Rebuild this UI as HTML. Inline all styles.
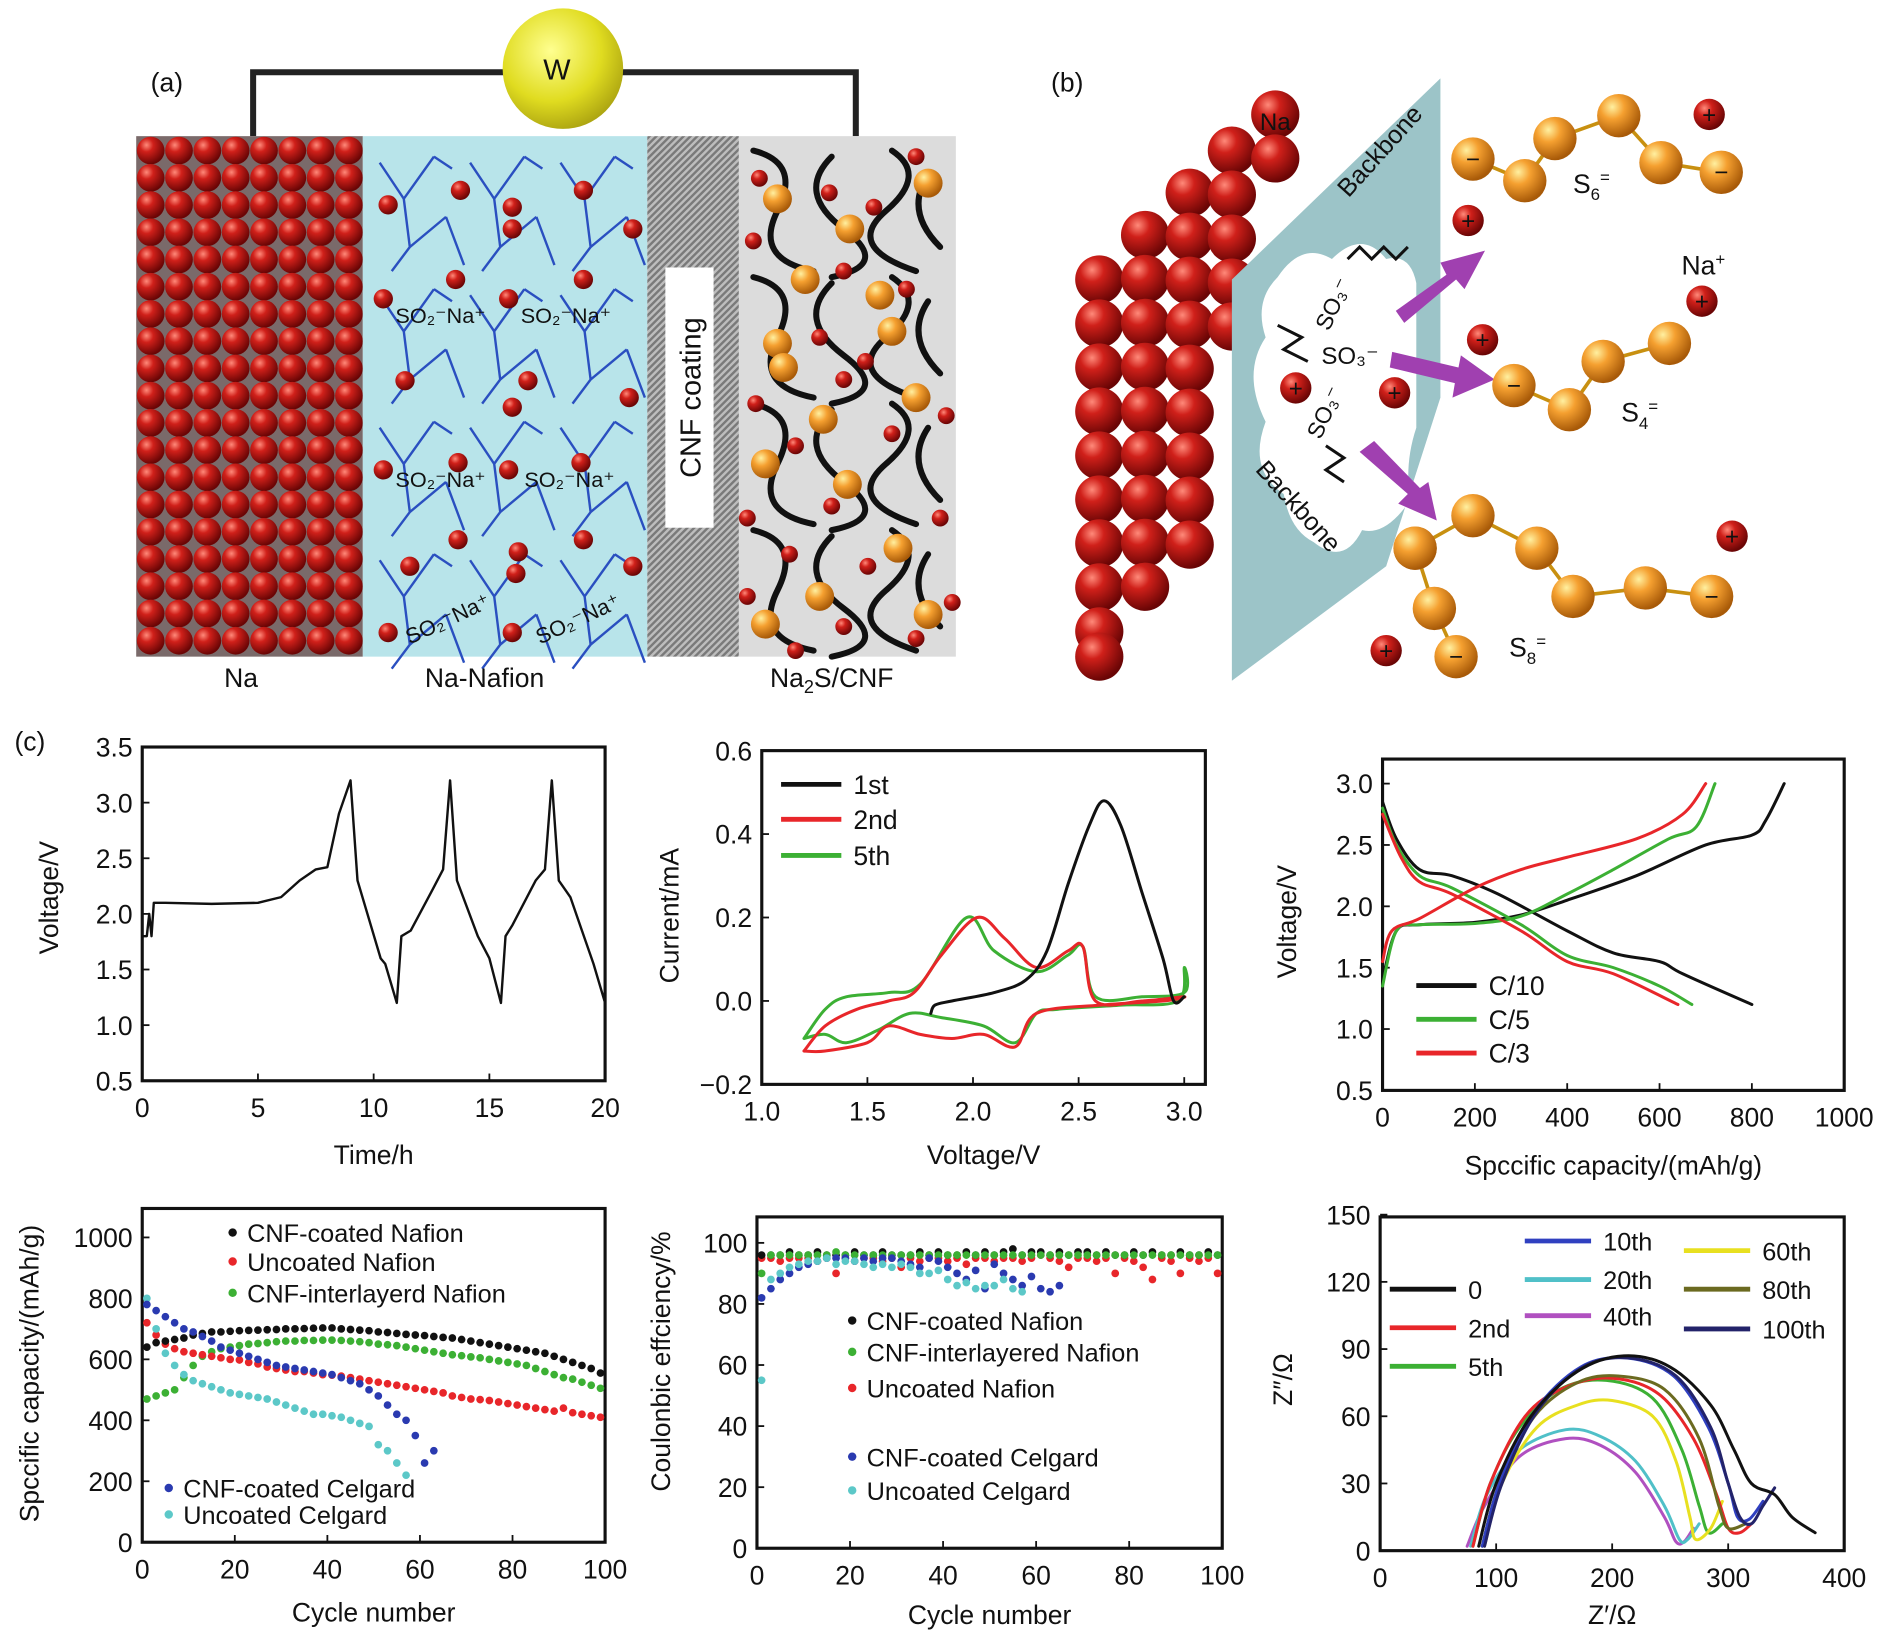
<!DOCTYPE html>
<html><head><meta charset="utf-8"><style>
html,body{margin:0;padding:0;background:#fff;}
svg{display:block;font-family:"Liberation Sans",Arial,sans-serif;}
</style></head><body>
<svg id="fig" width="1890" height="1635" viewBox="0 0 1568 1357" preserveAspectRatio="none" xmlns="http://www.w3.org/2000/svg">
<defs>
<radialGradient id="gRed" cx="0.35" cy="0.3" r="0.7"><stop offset="0" stop-color="#ff8a7a"/><stop offset="0.35" stop-color="#d0201a"/><stop offset="1" stop-color="#6a0505"/></radialGradient>
<radialGradient id="gOr" cx="0.35" cy="0.3" r="0.7"><stop offset="0" stop-color="#fff0a0"/><stop offset="0.4" stop-color="#f5a030"/><stop offset="1" stop-color="#a85a08"/></radialGradient>
<radialGradient id="gY" cx="0.4" cy="0.35" r="0.7"><stop offset="0" stop-color="#ffff90"/><stop offset="0.6" stop-color="#e0dc20"/><stop offset="1" stop-color="#a8a010"/></radialGradient>
<pattern id="hatch" width="4" height="4" patternUnits="userSpaceOnUse" patternTransform="rotate(45)"><rect width="4" height="4" fill="#bdbdbd"/><rect width="2" height="4" fill="#7a7a7a"/></pattern>
</defs>
<g id="panelA"></g>
<g id="panelB"></g>
<g id="charts"></g>
</svg>
<script>
// ---------- chart data ----------
const c1Time=[0,0.2,0.3,0.4,0.5,1,3,5,6,6.8,7.5,8,8.5,9,9.3,9.8,10.3,10.5,11,11.2,11.6,12.5,13,13.3,13.6,14.5,15,15.5,15.7,16,17,17.4,17.7,18,18.5,19,19.5,20];
const c1Volt=[1.8,1.8,2.0,1.8,2.1,2.1,2.09,2.1,2.15,2.3,2.4,2.42,2.9,3.2,2.3,1.95,1.6,1.55,1.2,1.8,1.85,2.2,2.4,3.2,2.3,1.8,1.6,1.2,1.8,1.9,2.3,2.4,3.2,2.3,2.15,1.85,1.55,1.2];
const c1XTicks=[0,5,10,15,20];
const c1YTicks=[0.5,1.0,1.5,2.0,2.5,3.0,3.5];

const cv1V=[1.8,1.82,1.9,2.1,2.25,2.35,2.45,2.55,2.62,2.7,2.8,2.9,2.95,3.0];
const cv1I=[-0.03,-0.01,0.0,0.02,0.05,0.12,0.28,0.42,0.48,0.42,0.26,0.1,0.0,0.01];
const cv2V=[1.2,1.3,1.45,1.6,1.72,1.85,2.02,2.15,2.3,2.45,2.52,2.58,2.8,3.0,2.9,2.6,2.3,2.2,2.05,1.9,1.75,1.6,1.5,1.3,1.2];
const cv2I=[-0.12,-0.06,-0.02,0.0,0.02,0.11,0.2,0.15,0.08,0.12,0.13,0.0,0.0,0.01,0.0,-0.01,-0.03,-0.11,-0.08,-0.09,-0.08,-0.06,-0.1,-0.12,-0.12];
const cv5V=[1.2,1.3,1.4,1.6,1.75,1.97,2.1,2.3,2.45,2.52,2.58,2.8,3.0,3.0,2.97,2.7,2.4,2.3,2.2,2.05,1.85,1.7,1.55,1.4,1.3,1.2];
const cv5I=[-0.09,-0.02,0.01,0.02,0.04,0.2,0.12,0.07,0.11,0.13,0.01,0.01,0.02,0.08,0.0,-0.01,-0.02,-0.03,-0.1,-0.06,-0.04,-0.03,-0.07,-0.1,-0.08,-0.09];
const c2XTicks=[1.0,1.5,2.0,2.5,3.0];
const c2YTicks=[-0.2,0.0,0.2,0.4,0.6];

const c10DisCap=[0,30,80,150,250,400,500,600,650,800];
const c10DisV=[2.85,2.55,2.3,2.25,2.1,1.8,1.62,1.55,1.45,1.2];
const c10ChCap=[0,30,80,200,300,400,550,700,800,830,870];
const c10ChV=[1.4,1.8,1.85,1.87,1.93,2.05,2.25,2.5,2.58,2.7,3.0];
const c5DisCap=[0,30,80,150,300,400,500,600,670];
const c5DisV=[2.8,2.5,2.25,2.15,1.85,1.6,1.5,1.35,1.2];
const c5ChCap=[0,30,80,200,300,400,500,620,680,720];
const c5ChV=[1.35,1.8,1.85,1.86,1.92,2.1,2.3,2.55,2.65,3.0];
const c3DisCap=[0,40,80,150,300,400,500,640];
const c3DisV=[2.75,2.4,2.2,2.1,1.8,1.55,1.45,1.2];
const c3ChCap=[0,20,80,200,300,400,550,650,700];
const c3ChV=[1.55,1.8,1.9,2.15,2.3,2.4,2.55,2.75,3.0];
const c3XTicks=[0,200,400,600,800,1000];
const c3YTicks=[0.5,1.0,1.5,2.0,2.5,3.0];

const capBlack=[640,655,660,665,670,680,685,690,690,692,694,695,696,697,698,700,700,701,702,703,703,700,698,696,694,690,688,685,682,680,678,675,672,670,665,660,655,650,645,640,635,630,625,620,610,600,590,580,570,555];
const capRed=[720,680,650,635,625,620,615,610,605,600,598,590,585,575,570,565,560,560,555,550,548,545,540,535,530,525,520,515,510,505,500,495,490,480,475,470,468,465,460,455,450,445,440,435,430,440,425,420,415,410];
const capGreen=[470,480,490,500,540,580,610,625,635,640,645,650,652,655,658,660,660,662,662,663,663,662,660,658,655,650,648,645,640,635,630,625,620,615,612,608,605,600,595,590,585,580,570,560,550,540,535,525,515,505];
const capBlue=[780,760,740,720,700,690,675,660,640,630,620,610,600,590,580,575,570,565,560,555,550,540,530,520,500,480,450,420,400,350,260,300];
const capCyan=[800,700,620,580,550,530,520,510,500,490,485,480,475,470,460,450,440,430,420,420,415,410,400,390,380,320,300,260,220];
const c4XTicks=[0,20,40,60,80,100];
const c4YTicks=[0,200,400,600,800,1000];

const ceBlack=[96,96,96,97,96,96,97,96,96,96,97,96,96,97,96,96,96,97,96,97,96,96,97,96,97,96,97,98,96,97,97,96,97,96,97,97,96,97,96,96,97,96,97,96,96,97,96,96,97,96];
const ceGreen=[90,96,96,96,96,96,96,96,97,96,96,96,96,96,96,96,96,96,96,96,96,96,96,96,96,96,96,96,96,96,96,96,96,96,96,96,96,96,96,96,96,96,96,96,96,96,96,96,96,96];
const ceRed=[95,95,94,95,95,95,94,95,90,95,94,95,95,94,95,92,95,94,95,95,94,95,93,95,95,94,95,95,94,95,96,95,94,92,95,95,94,95,90,95,94,92,88,95,94,90,95,94,95,90];
const ceBlue=[82,85,88,90,92,93,94,95,95,95,94,95,94,95,95,94,93,92,95,94,92,90,88,91,85,93,90,88,86,89,85,84,86];
const ceCyan=[55,88,90,92,93,94,94,95,93,94,94,93,92,93,92,93,92,90,90,91,88,86,87,85,86,86,88,85,84];
const c5XTicks=[0,20,40,60,80,100];
const c5YTicks=[0,20,40,60,80,100];

const eis0Re=[85,100,130,170,210,250,285,305,320,340,355,375];
const eis0Im=[2,30,60,80,87,82,65,45,30,25,15,8];
const eis2Re=[80,95,125,160,200,240,270,290,300,310,320];
const eis2Im=[2,30,60,73,77,70,50,25,10,8,12];
const eis5Re=[80,95,120,155,195,235,260,275,283,295];
const eis5Im=[2,30,55,72,76,68,45,20,8,12];
const eis10Re=[88,103,133,173,213,253,283,300,308,318,330];
const eis10Im=[2,30,62,82,86,78,55,30,15,14,22];
const eis20Re=[78,92,120,160,190,220,245,258,265,275];
const eis20Im=[2,25,45,54,51,40,20,5,5,12];
const eis40Re=[75,90,120,160,190,220,245,255,262,270];
const eis40Im=[2,20,42,50,47,35,15,4,4,10];
const eis60Re=[90,105,135,170,200,235,255,267,272,285,295];
const eis60Im=[2,30,55,65,67,60,40,15,5,10,22];
const eis80Re=[88,103,133,170,205,245,275,292,300,315];
const eis80Im=[2,30,60,75,78,72,50,20,10,12];
const eis100Re=[90,105,135,175,215,255,285,300,310,320,330,340];
const eis100Im=[2,30,62,82,86,78,55,30,15,12,20,28];
const c6XTicks=[0,100,200,300,400];
const c6YTicks=[0,30,60,90,120,150];

// ---------- helpers ----------
const NS='http://www.w3.org/2000/svg';
function mk(tag,attrs,parent){const e=document.createElementNS(NS,tag);for(const k in attrs)e.setAttribute(k,attrs[k]);if(parent)parent.appendChild(e);return e;}
function txt(s,x,y,size,parent,anchor,extra){const t=mk('text',Object.assign({x:x,y:y,'font-size':size,'text-anchor':anchor||'start',fill:'#111'},extra||{}),parent);t.textContent=s;return t;}
const root=document.getElementById('charts');

function makeAxes(c){
  const g=mk('g',{},root);
  
  
  c.sx=v=>c.x0+(v-c.xmin)/(c.xmax-c.xmin)*(c.x1-c.x0);
  c.sy=v=>c.y1-(v-c.ymin)/(c.ymax-c.ymin)*(c.y1-c.y0);
  c.g=g;
  const box=mk('rect',{x:c.x0,y:c.y0,width:c.x1-c.x0,height:c.y1-c.y0,fill:'none',stroke:'#111','stroke-width':2.6},g);
  
  
  c.xt.forEach((v,i)=>{const x=c.sx(v);mk('line',{x1:x,y1:c.y1,x2:x,y2:c.y1-6,stroke:'#111','stroke-width':1.5},g);
    const t=txt(c.xl?c.xl[i]:String(v),x,c.y1+30,22,g,'middle');
    
    });
  c.yt.forEach((v,i)=>{const y=c.sy(v);mk('line',{x1:c.x0,y1:y,x2:c.x0+6,y2:y,stroke:'#111','stroke-width':1.5},g);
    const t=txt(c.yl?c.yl[i]:String(v),c.x0-8,y+8,22,g,'end');
    
    });
  const xtl=txt(c.xtitle,(c.x0+c.x1)/2,c.xty,22,g,'middle');
  
  
  const ytl=txt(c.ytitle,0,0,22,g,'middle',{transform:`translate(${c.ytx},${c.yty}) rotate(-90)`});
  
  
  return c;
}
function line(c,xs,ys,color,name,w,smooth){
  const P=xs.map((x,i)=>[c.sx(x),c.sy(ys[i])]);
  let d='M'+P[0][0].toFixed(1)+' '+P[0][1].toFixed(1);
  for(let i=1;i<P.length;i++){
    if(smooth){const p0=P[Math.max(0,i-2)],p1=P[i-1],p2=P[i],p3=P[Math.min(P.length-1,i+1)];
      const c1x=p1[0]+(p2[0]-p0[0])/6,c1y=p1[1]+(p2[1]-p0[1])/6,c2x=p2[0]-(p3[0]-p1[0])/6,c2y=p2[1]-(p3[1]-p1[1])/6;
      d+=` C${c1x.toFixed(1)} ${c1y.toFixed(1)} ${c2x.toFixed(1)} ${c2y.toFixed(1)} ${p2[0].toFixed(1)} ${p2[1].toFixed(1)}`;}
    else d+=' L'+P[i][0].toFixed(1)+' '+P[i][1].toFixed(1);
  }
  const p=mk('path',{d:d,fill:'none',stroke:color,'stroke-width':w||2.5,'stroke-linejoin':'round','stroke-linecap':'round'},c.g);
  
  
}
function dots(c,xs,ys,color,name){
  const g=mk('g',{fill:color},c.g);
  
  
  ys.forEach((v,i)=>{mk('circle',{cx:c.sx(xs[i]),cy:c.sy(v),r:3.2},g);});
}
function oddX(n,start,step){const a=[];for(let i=0;i<n;i++)a.push(start+i*step);return a;}
function legLine(c,x,y,color,label,len,fs){
  const g=mk('g',{},c.g);
  
  
  mk('line',{x1:x,y1:y,x2:x+(len||50),y2:y,stroke:color,'stroke-width':4},g);
  txt(label,x+(len||50)+10,y+8,fs||22,g,'start');
}
function legDot(c,x,y,color,label){
  const g=mk('g',{},c.g);
  
  
  mk('circle',{cx:x,cy:y,r:3.5,fill:color},g);
  txt(label,x+12,y+8,21,g,'start');
}

// ---------- chart 1 ----------
const C1=makeAxes({name:'voltage-time-chart',x0:118,x1:502,y0:620,y1:897,xmin:0,xmax:20,ymin:0.5,ymax:3.5,xt:c1XTicks,yt:c1YTicks,yl:c1YTicks.map(v=>v.toFixed(1)),xtitle:'Time/h',xty:966,ytitle:'Voltage/V',ytx:48,yty:745});
line(C1,c1Time,c1Volt,'#111','voltage-curve',2);

// ---------- chart 2 ----------
const C2=makeAxes({name:'cv-chart',x0:632,x1:1000,y0:623,y1:900,xmin:1.0,xmax:3.1,ymin:-0.2,ymax:0.6,xt:c2XTicks,xl:c2XTicks.map(v=>v.toFixed(1)),yt:c2YTicks,yl:['\u22120.2','0.0','0.2','0.4','0.6'],xtitle:'Voltage/V',xty:966,ytitle:'Current/mA',ytx:563,yty:760});
line(C2,cv5V,cv5I,'#3cb034','cv-5th',2.5,true);
line(C2,cv2V,cv2I,'#e8262a','cv-2nd',2.5,true);
line(C2,cv1V,cv1I,'#111','cv-1st',2.5,true);
legLine(C2,648,651,'#111','1st');legLine(C2,648,680,'#e8262a','2nd');legLine(C2,648,710,'#3cb034','5th');

// ---------- chart 3 ----------
const C3=makeAxes({name:'rate-capacity-chart',x0:1147,x1:1530,y0:630,y1:905,xmin:0,xmax:1000,ymin:0.5,ymax:3.2,xt:c3XTicks,yt:c3YTicks,yl:c3YTicks.map(v=>v.toFixed(1)),xtitle:'Spccific capacity/(mAh/g)',xty:975,ytitle:'Voltage/V',ytx:1075,yty:765});
line(C3,c10DisCap,c10DisV,'#111','c10-discharge',2.5,true);line(C3,c10ChCap,c10ChV,'#111','c10-charge',2.5,true);
line(C3,c5DisCap,c5DisV,'#3cb034','c5-discharge',2.5,true);line(C3,c5ChCap,c5ChV,'#3cb034','c5-charge',2.5,true);
line(C3,c3DisCap,c3DisV,'#e8262a','c3-discharge',2.5,true);line(C3,c3ChCap,c3ChV,'#e8262a','c3-charge',2.5,true);
legLine(C3,1175,818,'#111','C/10');legLine(C3,1175,846,'#3cb034','C/5');legLine(C3,1175,874,'#e8262a','C/3');

// ---------- chart 4 ----------
const C4=makeAxes({name:'cycling-capacity-chart',x0:118,x1:502,y0:1003,y1:1280,xmin:0,xmax:100,ymin:0,ymax:1095,xt:c4XTicks,yt:c4YTicks,xtitle:'Cycle number',xty:1346,ytitle:'Spccific capacity/(mAh/g)',ytx:32,yty:1140});
dots(C4,oddX(50,1,2),capGreen,'#3cb034','series-cnf-interlayered-nafion');
dots(C4,oddX(50,1,2),capRed,'#e8262a','series-uncoated-nafion');
dots(C4,oddX(50,1,2),capBlack,'#111','series-cnf-coated-nafion');
dots(C4,oddX(29,1,2),capCyan,'#5cc8c8','series-uncoated-celgard');
dots(C4,oddX(32,1,2),capBlue,'#2a3ab0','series-cnf-coated-celgard');
legDot(C4,193,1023,'#111','CNF-coated Nafion');legDot(C4,193,1047,'#e8262a','Uncoated Nafion');legDot(C4,193,1073,'#3cb034','CNF-interlayerd Nafion');
legDot(C4,140,1235,'#2a3ab0','CNF-coated Celgard');legDot(C4,140,1257,'#5cc8c8','Uncoated Celgard');

// ---------- chart 5 ----------
const C5=makeAxes({name:'coulombic-efficiency-chart',x0:628,x1:1014,y0:1010,y1:1285,xmin:0,xmax:100,ymin:0,ymax:108.5,xt:c5XTicks,yt:c5YTicks,xtitle:'Cycle number',xty:1348,ytitle:'Coulonbic effciency/%',ytx:556,yty:1130});
dots(C5,oddX(50,1,2),ceRed,'#e8262a','ce-uncoated-nafion');
dots(C5,oddX(50,1,2),ceBlack,'#111','ce-cnf-coated-nafion');
dots(C5,oddX(50,1,2),ceGreen,'#3cb034','ce-cnf-interlayered-nafion');
dots(C5,oddX(33,1,2),ceBlue,'#2a3ab0','ce-cnf-coated-celgard');
dots(C5,oddX(29,1,2),ceCyan,'#5cc8c8','ce-uncoated-celgard');
legDot(C5,707,1096,'#111','CNF-coated Nafion');legDot(C5,707,1122,'#3cb034','CNF-interlayered Nafion');legDot(C5,707,1152,'#e8262a','Uncoated Nafion');
legDot(C5,707,1209,'#2a3ab0','CNF-coated Celgard');legDot(C5,707,1237,'#5cc8c8','Uncoated Celgard');

// ---------- chart 6 ----------
const C6=makeAxes({name:'eis-nyquist-chart',x0:1145,x1:1530,y0:1010,y1:1287,xmin:0,xmax:400,ymin:0,ymax:149,xt:c6XTicks,yt:c6YTicks,xtitle:'Z\u2032/\u03a9',xty:1348,ytitle:'Z\u2033/\u03a9',ytx:1072,yty:1145});
line(C6,eis40Re,eis40Im,'#b050c0','eis-40th',2.5,true);line(C6,eis20Re,eis20Im,'#50c0c8','eis-20th',2.5,true);
line(C6,eis5Re,eis5Im,'#3cb034','eis-5th',2.5,true);line(C6,eis60Re,eis60Im,'#e8e020','eis-60th',2.5,true);
line(C6,eis2Re,eis2Im,'#e8262a','eis-2nd',2.5,true);line(C6,eis80Re,eis80Im,'#6b6a20','eis-80th',2.5,true);
line(C6,eis10Re,eis10Im,'#3040c0','eis-10th',2.5,true);line(C6,eis100Re,eis100Im,'#23236a','eis-100th',2.5,true);
line(C6,eis0Re,eis0Im,'#111','eis-0',2.5,true);
legLine(C6,1153,1070,'#111','0',55,21);legLine(C6,1153,1102,'#e8262a','2nd',55,21);legLine(C6,1153,1134,'#3cb034','5th',55,21);
legLine(C6,1265,1030,'#3040c0','10th',55,21);legLine(C6,1265,1062,'#50c0c8','20th',55,21);legLine(C6,1265,1092,'#b050c0','40th',55,21);
legLine(C6,1397,1038,'#e8e020','60th',55,21);legLine(C6,1397,1070,'#6b6a20','80th',55,21);legLine(C6,1397,1103,'#23236a','100th',55,21);

// ---------- panel labels ----------
const svg=document.getElementById('fig');
[['(a)',125,76],['(b)',872,76],['(c)',12,623]].forEach(l=>{const t=txt(l[0],l[1],l[2],22,svg);});

// ---------- panel A ----------
const A=document.getElementById('panelA');
mk('path',{d:'M210 113 V60 H420 M515 60 H710 V113',fill:'none',stroke:'#222','stroke-width':5},A);
const wc=mk('circle',{cx:467,cy:57,r:50,fill:'url(#gY)'},A);

txt('W',462,66,24,A,'middle');
const naBg=mk('rect',{x:113,y:113,width:188,height:432,fill:'#7a6a6a'},A);

for(let r=0;r<19;r++)for(let c=0;c<8;c++)mk('circle',{cx:125+c*23.5,cy:125+r*22.6,r:11.5,fill:'url(#gRed)'},A);
const nf=mk('rect',{x:301,y:113,width:236,height:432,fill:'#b8e4ea'},A);

const br=mk('g',{stroke:'#2a4fc0','stroke-width':2,fill:'none'},A);
for(let r=0;r<4;r++)for(let c=0;c<3;c++){const x=315+c*75,y=125+r*110;mk('path',{d:`M${x} ${y+10} l20 30 l25 -35 M${x+20} ${y+40} l5 40 l30 -25 M${x+25} ${y+80} l-15 20 M${x+45} ${y+5} l15 10 M${x+55} ${y+55} l15 40`},br);}
[[382,158],[425,172],[484,158],[322,170],[425,190],[525,190],[378,232],[484,232],[318,248],[422,248],[336,316],[438,316],[522,330],[425,338],[380,384],[482,384],[318,390],[422,390],[380,448],[484,448],[430,458],[428,476],[340,470],[525,470],[322,525],[425,525]].forEach(p=>mk('circle',{cx:p[0],cy:p[1],r:8,fill:'url(#gRed)'},A));
[['SO\u2082\u207BNa\u207A',328,268,0],['SO\u2082\u207BNa\u207A',432,268,0],['SO\u2082\u207BNa\u207A',328,404,0],['SO\u2082\u207BNa\u207A',435,404,0],['SO\u2082\u207BNa\u207A',340,535,-25],['SO\u2082\u207BNa\u207A',448,535,-25]].forEach(s=>txt(s[0],s[1],s[2],18,A,'start',{transform:`rotate(${s[3]} ${s[1]} ${s[2]})`}));
const cnf=mk('rect',{x:537,y:113,width:76,height:432,fill:'url(#hatch)'},A);

mk('rect',{x:552,y:222,width:40,height:216,fill:'#fff'},A);
txt('CNF coating',581,330,24,A,'middle',{transform:'rotate(-90 581 330)'});
const cat=mk('rect',{x:613,y:113,width:180,height:432,fill:'#dcdcdc'},A);

const cw=mk('g',{stroke:'#111','stroke-width':5,fill:'none','stroke-linecap':'round'},A);
for(let r=0;r<4;r++){const y=125+r*105;mk('path',{d:`M625 ${y} q40 10 20 50 t30 50 M690 ${y+5} q-30 30 10 60 t-10 40 M740 ${y} q30 20 -5 50 t25 50 M770 ${y+20} q-20 30 10 60`},cw);}
[[645,165],[705,190],[770,152],[668,232],[730,245],[645,285],[760,330],[683,348],[635,385],[703,402],[745,455],[680,495],[635,518],[770,510],[740,275],[650,305]].forEach(p=>mk('circle',{cx:p[0],cy:p[1],r:12,fill:'url(#gOr)'},A));
[[630,148],[688,160],[725,172],[760,130],[625,200],[700,225],[752,240],[680,280],[718,300],[627,335],[700,315],[785,345],[660,370],[740,360],[620,430],[690,420],[780,430],[655,460],[720,470],[620,495],[700,520],[760,530],[790,500],[660,540]].forEach(p=>mk('circle',{cx:p[0],cy:p[1],r:7,fill:'url(#gRed)'},A));
txt('Na',200,570,22,A,'middle');txt('Na-Nafion',402,570,22,A,'middle');
const nl=txt('',690,570,22,A,'middle');
const t1=mk('tspan',{},nl);t1.textContent='Na';const t2=mk('tspan',{'font-size':15,dy:5},nl);t2.textContent='2';const t3=mk('tspan',{dy:-5},nl);t3.textContent='S/CNF';

// ---------- panel B ----------
const B=document.getElementById('panelB');
const cols=[[912,232,545],[950,195,510],[987,160,480],[1022,125,300],[1058,95,165]];
cols.forEach(c=>{for(let y=c[1];y<=c[2];y+=36.5)mk('circle',{cx:c[0],cy:y,r:20,fill:'url(#gRed)'},B);});
mk('circle',{cx:912,cy:545,r:20,fill:'url(#gRed)'},B);
const mem=mk('polygon',{points:'1022,232 1195,65 1195,330 1150,470 1022,565',fill:'#9cc4c8'},B);

mk('path',{d:'M1060 230 q20 -30 45 -15 q25 -25 45 0 q20 -5 25 20 l0 120 q-10 30 -5 60 q-20 30 -40 25 q-15 30 -40 10 q-20 -10 -25 -40 q-30 -20 -15 -60 q-20 -40 0 -70 q-10 -30 10 -50z',fill:'#fff'},B);
txt('Na',1058,108,20,B,'middle');
txt('Backbone',1150,130,21,B,'middle',{transform:'rotate(-48 1150 130)'});
txt('Backbone',1072,425,21,B,'middle',{transform:'rotate(48 1072 425)'});
txt('SO\u2083\u207B',1112,255,19,B,'middle',{transform:'rotate(-65 1112 255)'});
txt('SO\u2083\u207B',1120,302,20,B,'middle');
txt('SO\u2083\u207B',1105,345,19,B,'middle',{transform:'rotate(-65 1105 345)'});
mk('path',{d:'M1118 215 l10 -10 l10 10 l10 -10 l10 10 l10 -10 M1060 270 l20 10 l-15 10 l20 10 M1100 370 l15 10 l-15 10 l15 10',fill:'none',stroke:'#111','stroke-width':2.5},B);
const ar=mk('g',{fill:'#a040b0'},B);
mk('polygon',{points:'1158,258 1200,228 1195,218 1232,208 1215,240 1208,232 1165,268',fill:'#a040b0'},ar);
mk('polygon',{points:'1155,292 1210,305 1212,295 1240,315 1205,330 1207,318 1153,305'},ar);
mk('polygon',{points:'1128,375 1168,410 1160,418 1192,432 1185,400 1178,405 1140,366'},ar);
const chains=[[[1222,132],[1265,150],[1290,115],[1343,96],[1378,135],[1428,143]],[[1256,320],[1302,340],[1330,300],[1385,285]],[[1174,455],[1222,428],[1275,455],[1305,495],[1365,488],[1420,495]],[[1174,455],[1190,505],[1208,545]]];
chains.forEach(ch=>{mk('polyline',{points:ch.map(p=>p.join(',')).join(' '),fill:'none',stroke:'#c89010','stroke-width':3},B);ch.forEach(p=>mk('circle',{cx:p[0],cy:p[1],r:18,fill:'url(#gOr)'},B));});
[[1222,132],[1428,143],[1256,320],[1420,495],[1208,545]].forEach(p=>txt('\u2212',p[0],p[1]+7,20,B,'middle'));
[[1418,95],[1218,183],[1412,250],[1230,282],[1075,322],[1157,326],[1437,445],[1150,540]].forEach(p=>{mk('circle',{cx:p[0],cy:p[1],r:13,fill:'url(#gRed)'},B);txt('+',p[0],p[1]+7,20,B,'middle');});
function sub(s,b,sp,x,y){const t=txt(s,x,y,22,B,'start');const a=mk('tspan',{'font-size':14,dy:6},t);a.textContent=b;const c=mk('tspan',{'font-size':14,dy:-14},t);c.textContent=sp;}
sub('S','6','=',1305,160);sub('S','4','=',1345,350);sub('S','8','=',1252,545);
const na=txt('Na',1395,228,22,B,'start');const nap=mk('tspan',{'font-size':14,dy:-8},na);nap.textContent='+';
</script>
</body></html>
